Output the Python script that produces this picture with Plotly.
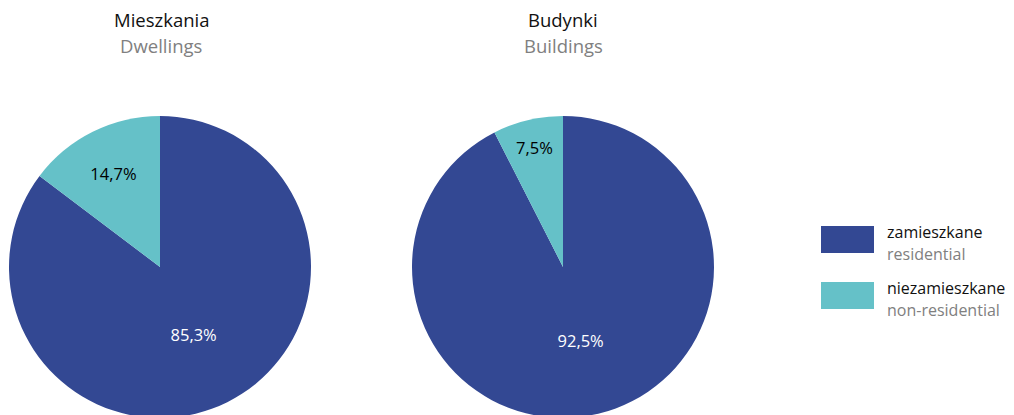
import plotly.graph_objects as go

# Data
charts = ["Mieszkania", "Budynki"]
charts_en = ["Dwellings", "Buildings"]
categories = ["zamieszkane", "niezamieszkane"]
categories_en = ["residential", "non-residential"]
dwellings = [85.3, 14.7]
buildings = [92.5, 7.5]

COLORS = ["#334893", "#65c1c8"]
TEXT_COLORS = ["#ffffff", "#000000"]
FONT = "Open Sans, Noto Sans, sans-serif"

# figure is a little taller than the window so the pies run off the bottom edge
W, H = 1014, 419


def fmt(v):
    return f"{v:.1f}".replace(".", ",") + "%"


def py(px_from_top):
    return 1 - px_from_top / H


fig = go.Figure()

# pie domains (px): left centred ~160, right ~563, radius ~151, top at 116
domains = [[9 / W, 311 / W], [412 / W, 714 / W]]
for i, vals in enumerate([dwellings, buildings]):
    fig.add_trace(go.Pie(
        values=vals,
        labels=categories,
        text=[fmt(v) for v in vals],
        textinfo="text",
        textposition="inside",
        insidetextorientation="horizontal",
        insidetextfont=dict(color=TEXT_COLORS, size=16.5, family=FONT),
        marker=dict(colors=COLORS, line=dict(width=0)),
        sort=False,
        direction="clockwise",
        rotation=0,
        hole=0,
        showlegend=False,
        domain=dict(x=domains[i], y=[py(418), py(116)]),
    ))

# titles
title_x = [161 / W, 563 / W]
for i in range(2):
    fig.add_annotation(x=title_x[i], y=py(20), xref="paper", yref="paper",
                       text=charts[i], showarrow=False,
                       xanchor="center", yanchor="middle",
                       font=dict(size=18.5, color="#111111", family=FONT))
    fig.add_annotation(x=title_x[i], y=py(45), xref="paper", yref="paper",
                       text=charts_en[i], showarrow=False,
                       xanchor="center", yanchor="middle",
                       font=dict(size=18.5, color="#808080", family=FONT))

# custom legend
leg_top = [226, 282]
for i in range(2):
    y0 = leg_top[i]
    fig.add_shape(type="rect", xref="paper", yref="paper",
                  x0=821 / W, x1=874 / W, y0=py(y0 + 27), y1=py(y0),
                  fillcolor=COLORS[i], line=dict(width=0))
    fig.add_annotation(x=885 / W, y=py(y0 + 6), xref="paper", yref="paper",
                       text=categories[i], showarrow=False,
                       xanchor="left", yanchor="middle",
                       font=dict(size=16, color="#111111", family=FONT))
    fig.add_annotation(x=885 / W, y=py(y0 + 28), xref="paper", yref="paper",
                       text=categories_en[i], showarrow=False,
                       xanchor="left", yanchor="middle",
                       font=dict(size=16, color="#808080", family=FONT))

fig.update_layout(
    width=W, height=H,
    margin=dict(l=0, r=0, t=0, b=0),
    paper_bgcolor="white",
    plot_bgcolor="white",
)

fig.write_html(
    "out.html",
    config={"displayModeBar": False},
    post_script="document.body.style.margin='0';document.body.style.overflow='hidden';",
)
